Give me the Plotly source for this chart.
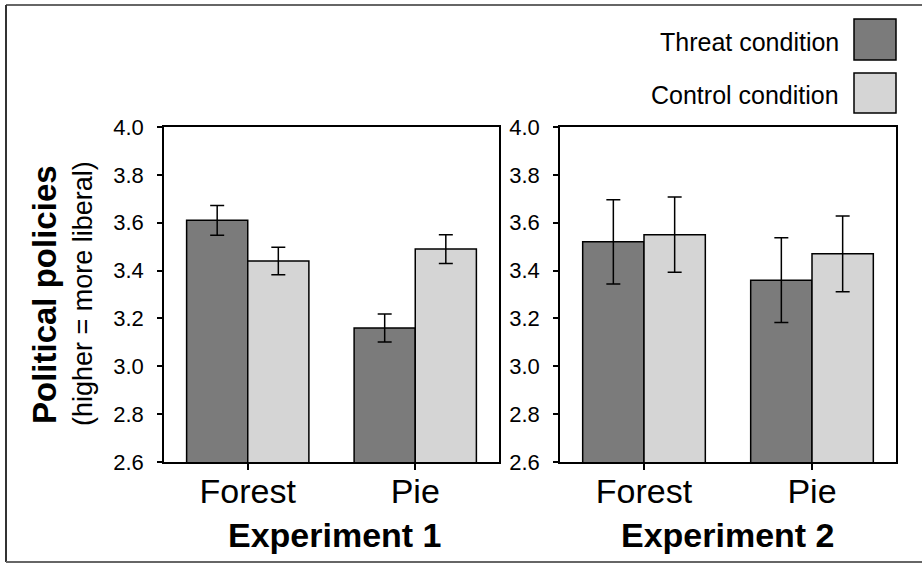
import plotly.graph_objects as go

categories = ["Forest", "Pie"]
exp1_threat = [3.61, 3.16]
exp1_threat_err = [0.062, 0.058]
exp1_control = [3.44, 3.49]
exp1_control_err = [0.057, 0.060]
exp2_threat = [3.52, 3.36]
exp2_threat_err = [0.176, 0.177]
exp2_control = [3.55, 3.47]
exp2_control_err = [0.157, 0.158]
y_ticks = [2.6, 2.8, 3.0, 3.2, 3.4, 3.6, 3.8, 4.0]
series_names = ["Threat condition", "Control condition"]
panel_titles = ["Experiment 1", "Experiment 2"]

W, H = 922, 563
FONT = "Arial, Liberation Sans, Helvetica, sans-serif"
C_THREAT = "#7b7b7b"
C_CONTROL = "#d5d5d5"

def px(x):
    return x / W

def py(y):
    return 1 - y / H

fig = go.Figure()

panels = [
    (exp1_threat, exp1_threat_err, exp1_control, exp1_control_err, "x", "y"),
    (exp2_threat, exp2_threat_err, exp2_control, exp2_control_err, "x2", "y2"),
]
for th, the, co, coe, xa, ya in panels:
    for vals, errs, col, name in [(th, the, C_THREAT, series_names[0]), (co, coe, C_CONTROL, series_names[1])]:
        fig.add_trace(go.Bar(
            x=[0, 1], y=vals, base=0, name=name, xaxis=xa, yaxis=ya,
            marker=dict(color=col, line=dict(color="black", width=1.5)),
            error_y=dict(type="data", array=errs, visible=True, color="black", thickness=1.5, width=7),
            showlegend=False, hoverinfo="skip",
        ))

ax_common = dict(showline=True, linecolor="black", linewidth=1.5, mirror=True,
                 showgrid=False, zeroline=False, automargin=False)
xcommon = dict(ax_common, range=[-0.5, 1.5], tickvals=[0, 1], ticktext=categories,
               ticks="outside", ticklen=6, tickwidth=1.5, tickcolor="black",
               ticklabelstandoff=-8,
               tickfont=dict(family=FONT, size=34, color="black"), fixedrange=True)
ycommon = dict(ax_common, range=[2.6, 4.0], tickvals=y_ticks,
               ticktext=[f"{v:.1f}" for v in y_ticks],
               ticks="outside", ticklen=5, tickwidth=1.5, tickcolor="black",
               ticklabelstandoff=9,
               tickfont=dict(family=FONT, size=22, color="black"), fixedrange=True)

fig.update_layout(
    width=W, height=H,
    margin=dict(l=0, r=0, t=0, b=0, pad=0, autoexpand=False),
    paper_bgcolor="white", plot_bgcolor="white",
    barmode="group", bargap=0.27, bargroupgap=0,
    showlegend=False,
    font=dict(family=FONT, color="black"),
    xaxis=dict(xcommon, domain=[px(164), px(499)], anchor="y"),
    yaxis=dict(ycommon, domain=[py(462), py(127)], anchor="x"),
    xaxis2=dict(xcommon, domain=[px(560), px(896)], anchor="y2"),
    yaxis2=dict(ycommon, domain=[py(462), py(127)], anchor="x2"),
)

annotations = []
for title, cx in zip(panel_titles, [335, 728]):
    annotations.append(dict(text=f"<b>{title}</b>", x=px(cx), y=py(535), xref="paper", yref="paper",
                            xanchor="center", yanchor="middle", showarrow=False,
                            font=dict(family=FONT, size=34, color="black")))
annotations.append(dict(text="<b>Political policies</b>", x=px(44), y=py(295), xref="paper", yref="paper",
                        textangle=-90, xanchor="center", yanchor="middle", showarrow=False,
                        font=dict(family=FONT, size=33, color="black")))
annotations.append(dict(text="(higher = more liberal)", x=px(83), y=py(294), xref="paper", yref="paper",
                        textangle=-90, xanchor="center", yanchor="middle", showarrow=False,
                        font=dict(family=FONT, size=27, color="black")))
for name, cy in zip(series_names, [42, 95]):
    annotations.append(dict(text=name, x=px(841), y=py(cy), xref="paper", yref="paper",
                            xanchor="right", yanchor="middle", showarrow=False,
                            font=dict(family=FONT, size=25, color="black")))
fig.update_layout(annotations=annotations)

shapes = []
for col, (y0, y1) in zip([C_THREAT, C_CONTROL], [(19, 60), (73, 113)]):
    shapes.append(dict(type="rect", xref="paper", yref="paper",
                       x0=px(854), x1=px(896), y0=py(y1), y1=py(y0),
                       fillcolor=col, line=dict(color="black", width=1.5)))
# outer frame lines
shapes.append(dict(type="line", xref="paper", yref="paper", x0=px(6), x1=1.0, y0=py(5), y1=py(5),
                   line=dict(color="#666666", width=2)))
shapes.append(dict(type="line", xref="paper", yref="paper", x0=px(6), x1=px(6), y0=py(5), y1=py(562),
                   line=dict(color="#333333", width=2)))
shapes.append(dict(type="line", xref="paper", yref="paper", x0=px(6), x1=1.0, y0=py(562), y1=py(562),
                   line=dict(color="#666666", width=2)))
fig.update_layout(shapes=shapes)

fig.write_html("out.html", config={"displayModeBar": False},
               post_script="document.body.style.margin='0px';document.body.style.overflow='hidden';")
